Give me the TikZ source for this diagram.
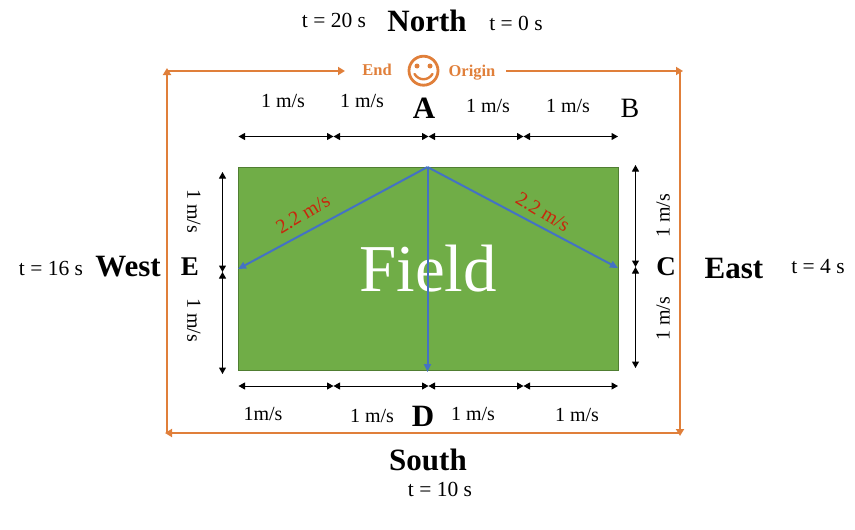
\documentclass[tikz,border=0pt]{standalone}
\usepackage{fontspec}
\setmainfont{Liberation Serif}
\usetikzlibrary{arrows.meta,positioning,calc}
\definecolor{fieldgreen}{HTML}{70AD47}
\definecolor{fieldedge}{HTML}{507E32}
\definecolor{routeorange}{HTML}{E07F3A}
\definecolor{pathblue}{HTML}{4472C4}
\definecolor{speedred}{HTML}{C8260C}
\tikzset{
  field/.style={
    rectangle,
    draw=fieldedge,
    fill=fieldgreen,
    line width=0.8pt,
    inner sep=0pt,
    minimum width=380pt,
    minimum height=203pt,
    text=white,
    font=\fontsize{67}{70}\selectfont
  },
  compass/.style={font=\fontsize{31}{33}\selectfont\bfseries, inner sep=0pt},
  point/.style={font=\fontsize{28}{30}\selectfont, inner sep=0pt},
  pointbold/.style={font=\fontsize{27}{29}\selectfont\bfseries, inner sep=0pt},
  pointlarge/.style={font=\fontsize{31}{33}\selectfont\bfseries, inner sep=0pt},
  timing/.style={font=\fontsize{21.5}{24}\selectfont, inner sep=0pt},
  speed/.style={font=\fontsize{20}{22}\selectfont, inner sep=0pt},
  redspeed/.style={font=\fontsize{20}{22}\selectfont, text=speedred, inner sep=0pt},
  routelabel/.style={font=\fontsize{16.5}{18}\selectfont\bfseries, text=routeorange, inner sep=0pt},
  route/.style={-{Triangle[length=7pt,width=8pt]}, line width=2.2pt, draw=routeorange},
  measure/.style={{Triangle[length=6.5pt,width=7pt]}-{Triangle[length=6.5pt,width=7pt]}, line width=1pt, draw=black},
  run/.style={-{Triangle[length=8pt,width=7pt]}, line width=2pt, draw=pathblue}
}
\begin{document}
\begin{tikzpicture}[x=1pt,y=-1pt]
  \useasboundingbox (0,0) rectangle (855,530);
  \node[field] (fieldbox) at (428,268.5) {Field};

  % orange route
  \node[routelabel] (endlabel) at (377,70) {End};
  \node[routelabel] (originlabel) at (472,72.5) {Origin};
  \node[circle, draw=routeorange, line width=2.8pt, minimum size=29pt, inner sep=0pt] (smiley) at (423.5,70.7) {};
  \fill[routeorange] (417,66) circle (2.5pt) (430,66) circle (2.5pt);
  \draw[routeorange, line width=2.4pt, line cap=round] (414.5,74) .. controls (419,81) and (428,81) .. (432.5,74);
  \coordinate (routestart) at (506,71);
  \coordinate (cornerne) at (683,71);
  \coordinate (cornerse) at (680,436);
  \coordinate (cornersw) at (165,433);
  \coordinate (cornernw) at (167,68);
  \coordinate (routeend) at (345,71);
  \draw[route] (routestart) -- (cornerne);
  \draw[route] (680,71) -- (cornerse);
  \draw[route] (680,433) -- (cornersw);
  \draw[route] (167,433) -- (cornernw);
  \draw[route] (166,71) -- (routeend);

  % top and bottom measures
  \foreach \name/\xpos in {a/238.5,b/333.5,c/428.5,d/523.5,e/618}{
    \coordinate (top\name) at (\xpos,136.5);
    \coordinate (bot\name) at (\xpos,386);
  }
  \foreach \from/\to in {a/b,b/c,c/d,d/e}{
    \draw[measure] (top\from) -- (top\to);
    \draw[measure] (bot\from) -- (bot\to);
  }

  % side measures
  \coordinate (lefta) at (222.5,172);
  \coordinate (leftb) at (222.5,272);
  \coordinate (leftc) at (222.5,374);
  \coordinate (righta) at (635.5,165);
  \coordinate (rightb) at (635.5,267);
  \coordinate (rightc) at (635.5,368);
  \draw[measure] (lefta) -- (leftb);
  \draw[measure] (leftb) -- (leftc);
  \draw[measure] (righta) -- (rightb);
  \draw[measure] (rightb) -- (rightc);

  % blue runs
  \coordinate (apex) at (427.5,167);
  \coordinate (westend) at (238,269);
  \coordinate (eastend) at (618,268);
  \coordinate (southend) at (427.5,372);
  \draw[run] (apex) -- (westend);
  \draw[run] (apex) -- (eastend);
  \draw[run] (apex) -- (southend);

  \node[redspeed, rotate=31] at (303,214) {2.2 m/s};
  \node[redspeed, rotate=-31] at (543,212) {2.2 m/s};

  % compass
  \node[compass] (north) at (427,21) {North};
  \node[compass] (south) at (428,460) {South};
  \node[compass] (west) at (128,267) {West};
  \node[compass] (east) at (734,268) {East};
  \node[timing] at (334,20) {t = 20 s};
  \node[timing] at (516,23) {t = 0 s};
  \node[timing] at (51,268) {t = 16 s};
  \node[timing] at (818,267) {t = 4 s};
  \node[timing] at (440,489) {t = 10 s};

  % points
  \node[pointlarge] (pointa) at (424,108) {A};
  \node[point] (pointb) at (630,108) {B};
  \node[pointbold] (pointc) at (666,267) {C};
  \node[pointlarge] (pointd) at (423,416) {D};
  \node[pointbold] (pointe) at (190,267) {E};

  % speeds
  \node[speed] at (283,101) {1 m/s};
  \node[speed] at (362,101) {1 m/s};
  \node[speed] at (488,106) {1 m/s};
  \node[speed] at (568,106) {1 m/s};
  \node[speed] at (263,414) {1m/s};
  \node[speed] at (372,416) {1 m/s};
  \node[speed] at (473,414) {1 m/s};
  \node[speed] at (577,415) {1 m/s};
  \node[speed, rotate=-90] at (194,211) {1 m/s};
  \node[speed, rotate=-90] at (194,320) {1 m/s};
  \node[speed, rotate=90] at (663,216) {1 m/s};
  \node[speed, rotate=90] at (663,319) {1 m/s};
\end{tikzpicture}
\end{document}
